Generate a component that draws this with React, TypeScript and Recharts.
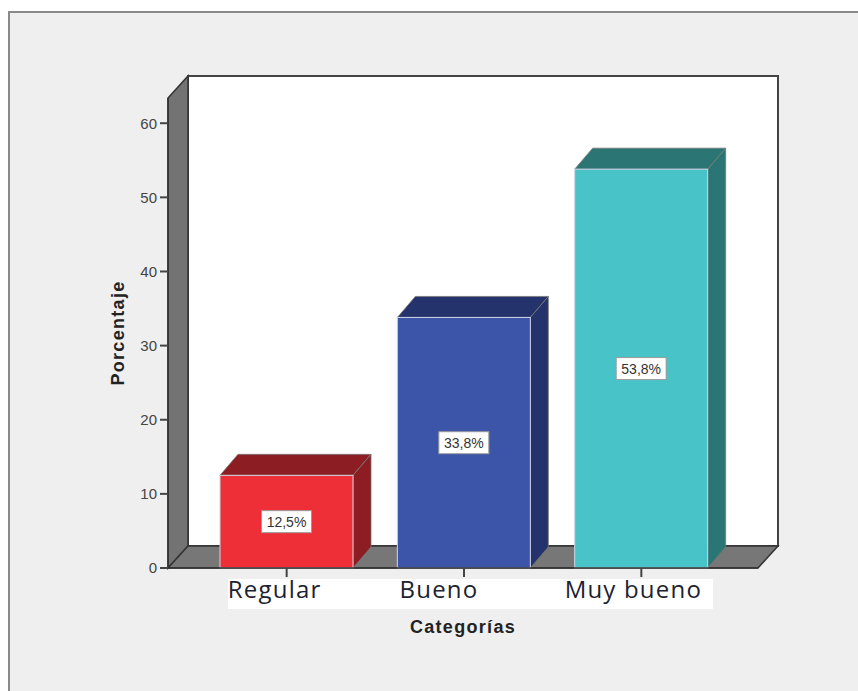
import { Bar, BarChart, LabelList, XAxis, YAxis, Label } from 'recharts';

const categories = ['Regular', 'Bueno', 'Muy bueno'];
const percentages = [12.5, 33.8, 53.8];
const valueLabels = ['12,5%', '33,8%', '53,8%'];
const yTicks = [0, 10, 20, 30, 40, 50, 60];

const FRONT_COLORS = ['#ee2f37', '#3d55a8', '#48c3c7'];
const DARK_COLORS = ['#8c1d22', '#25336c', '#2b7574'];
// category captions sit a little left of their tick marks
const CAPTION_SHIFT = [-12, -25, -8];

const W = 858;
const H = 691;
const PLOT_LEFT = 168;
const PLOT_RIGHT = 758;
const PLOT_TOP = 98;
const PLOT_BOTTOM = 568;
const WALL_DX = 20;
const WALL_DY = 22;
const BAR_DX = 18;
const BAR_DY = 21;
const Y_AXIS_W = 60;
const X_AXIS_H = 30;

const data = categories.map((name, i) => ({
  name,
  value: percentages[i],
  label: valueLabels[i],
}));

function Box3D(props: any) {
  const { x, y, width, height, index } = props;
  const front = FRONT_COLORS[index];
  const dark = DARK_COLORS[index];
  const top = `${x},${y} ${x + BAR_DX},${y - BAR_DY} ${x + width + BAR_DX},${y - BAR_DY} ${x + width},${y}`;
  const side = `${x + width},${y} ${x + width + BAR_DX},${y - BAR_DY} ${x + width + BAR_DX},${y + height - BAR_DY} ${x + width},${y + height}`;
  return (
    <g>
      <polygon points={top} fill={dark} stroke="#777" strokeWidth={0.8} />
      <polygon points={side} fill={dark} stroke="#777" strokeWidth={0.8} />
      <rect x={x} y={y} width={width} height={height} fill={front} stroke="#cfd6e6" strokeWidth={1} />
    </g>
  );
}

function ValueBox(props: any) {
  const { x, y, width, height, value } = props;
  const cx = x + width / 2;
  const cy = y + height / 2;
  return (
    <g>
      <rect x={cx - 25} y={cy - 11} width={50} height={22} fill="#fff" stroke="#9a9a9a" strokeWidth={1} />
      <text x={cx} y={cy + 5} textAnchor="middle" fontSize={14} fill="#333" fontFamily="Liberation Sans, Arial, sans-serif">
        {value}
      </text>
    </g>
  );
}

function CategoryTick(props: any) {
  const { x, y, payload, index } = props;
  return (
    <text
      x={x + (CAPTION_SHIFT[index] ?? 0)}
      y={y + 19}
      textAnchor="middle"
      fontSize={24}
      letterSpacing={1.2}
      fill="#1c2230"
      fontFamily="Open Sans, sans-serif"
    >
      {payload.value}
    </text>
  );
}

// static frame: panel, back wall, left wall and floor
function Backdrop() {
  const wall = `${PLOT_LEFT},${PLOT_TOP} ${PLOT_LEFT + WALL_DX},${PLOT_TOP - WALL_DY} ${PLOT_LEFT + WALL_DX},${PLOT_BOTTOM - WALL_DY} ${PLOT_LEFT},${PLOT_BOTTOM}`;
  const floor = `${PLOT_LEFT},${PLOT_BOTTOM} ${PLOT_LEFT + WALL_DX},${PLOT_BOTTOM - WALL_DY} ${PLOT_RIGHT + WALL_DX},${PLOT_BOTTOM - WALL_DY} ${PLOT_RIGHT},${PLOT_BOTTOM}`;
  return (
    <svg width={W} height={H} style={{ position: 'absolute', left: 0, top: 0 }}>
      <rect x={0} y={0} width={W} height={H} fill="#fff" />
      <rect x={9} y={12} width={W} height={H} fill="#efefef" stroke="#8a8a8a" strokeWidth={2} />
      <rect
        x={PLOT_LEFT + WALL_DX}
        y={PLOT_TOP - WALL_DY}
        width={PLOT_RIGHT - PLOT_LEFT}
        height={PLOT_BOTTOM - PLOT_TOP}
        fill="#fff"
        stroke="#444"
        strokeWidth={2}
      />
      <polygon points={wall} fill="#737373" stroke="#333" strokeWidth={1.5} />
      <polygon points={floor} fill="#777" stroke="#333" strokeWidth={1.5} />
      <rect x={228} y={579} width={485} height={30} fill="#fff" />
    </svg>
  );
}

export default function App() {
  return (
    <div style={{ position: 'absolute', left: 0, top: 0, width: W, height: H }}>
      <Backdrop />
      <div style={{ position: 'absolute', left: 0, top: 0 }}>
        <BarChart
          width={W}
          height={H}
          data={data}
          margin={{
            top: PLOT_TOP,
            right: W - PLOT_RIGHT,
            bottom: H - PLOT_BOTTOM - X_AXIS_H,
            left: PLOT_LEFT - Y_AXIS_W,
          }}
          style={{ fontFamily: 'Liberation Sans, Arial, sans-serif' }}
        >
          <XAxis
            dataKey="name"
            height={X_AXIS_H}
            padding={{ left: 30, right: 28 }}
            axisLine={{ stroke: '#333', strokeWidth: 1.5 }}
            tickLine={{ stroke: '#444', strokeWidth: 2 }}
            tickSize={9}
            tickMargin={2}
            tick={<CategoryTick />}
            interval={0}
          >
            <Label
              value="Categorías"
              position="bottom"
              offset={22}
              fontSize={18}
              fontWeight="bold"
              fill="#222"
              letterSpacing={1.3}
            />
          </XAxis>
          <YAxis
            width={Y_AXIS_W}
            domain={[0, 63.4]}
            ticks={yTicks}
            axisLine={{ stroke: '#333', strokeWidth: 1.5 }}
            tickLine={{ stroke: '#444', strokeWidth: 2 }}
            tickSize={8}
            tickMargin={3}
            tick={{ fontSize: 15, fill: '#444' }}
          >
            <Label
              content={(p: any) => {
                const vb = p.viewBox;
                const cx = vb.x + 10;
                const cy = vb.y + vb.height / 2;
                return (
                  <text
                    x={cx}
                    y={cy}
                    transform={`rotate(-90 ${cx} ${cy})`}
                    textAnchor="middle"
                    dominantBaseline="central"
                    fontSize={18}
                    fontWeight="bold"
                    fill="#222"
                    letterSpacing={1.3}
                  >
                    Porcentaje
                  </text>
                );
              }}
            />
          </YAxis>
          <Bar dataKey="value" barSize={133} shape={<Box3D />} isAnimationActive={false}>
            <LabelList dataKey="label" content={<ValueBox />} />
          </Bar>
        </BarChart>
      </div>
    </div>
  );
}
